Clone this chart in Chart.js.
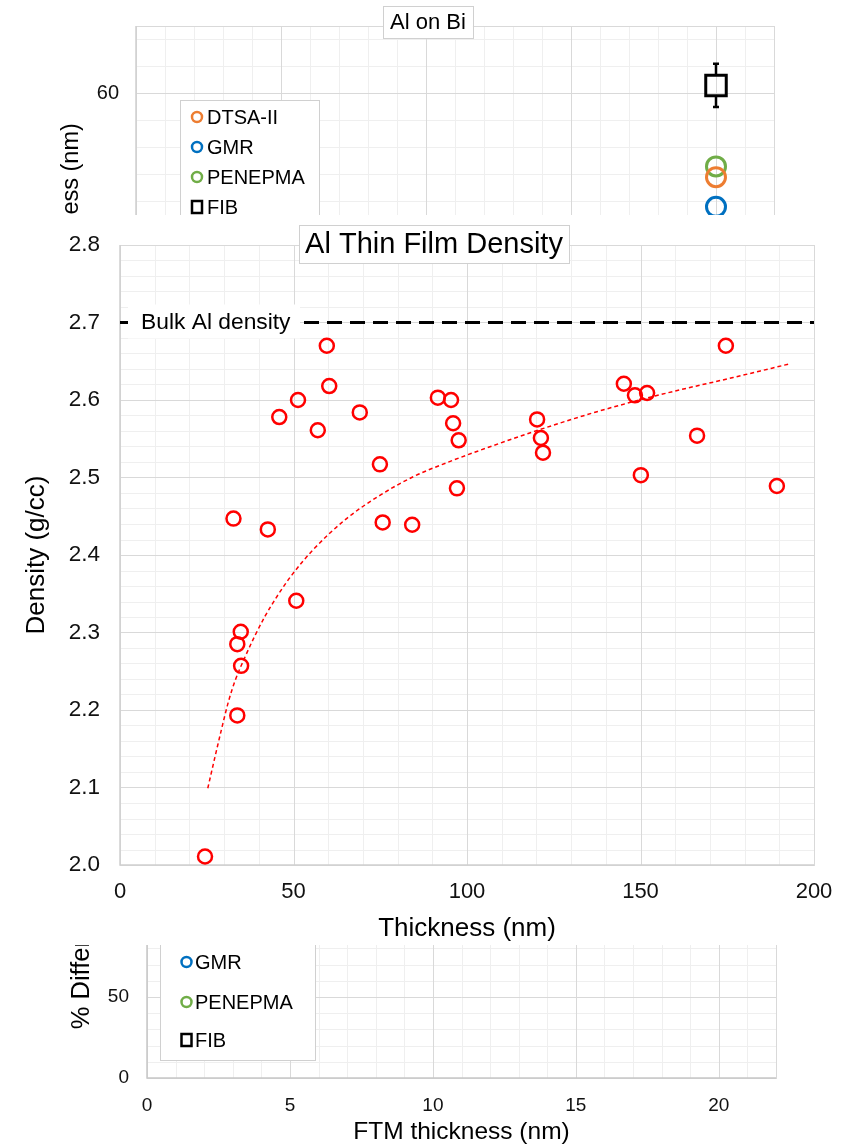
<!DOCTYPE html>
<html>
<head>
<meta charset="utf-8">
<script src="https://cdn.jsdelivr.net/npm/chart.js@4.4.1/dist/chart.umd.min.js"></script>
<style>
html,body{margin:0;padding:0;background:#fff;width:841px;height:1144px;overflow:hidden}
.clip{position:absolute;left:0;width:841px;overflow:hidden;background:#fff}
canvas{position:absolute;left:0;display:block}
</style>
</head>
<body>
<div class="clip" style="top:0;height:215px;z-index:1"><canvas id="topChart" width="841" height="437" style="top:0"></canvas></div>
<div class="clip" style="top:945px;height:199px;z-index:1"><canvas id="botChart" width="841" height="340" style="top:-130px"></canvas></div>
<div class="clip" style="top:215px;height:730px;z-index:2"><canvas id="mainChart" width="841" height="730" style="top:0"></canvas></div>
<script>
// ---------------- DATA ----------------
// Main chart: Al Thin Film Density
const thicknessNm = [24.5, 32.7, 33.8, 34.8, 34.9, 33.8, 42.6, 45.9, 50.8, 51.3, 57.0, 59.6, 60.3, 69.1, 74.9, 75.7, 84.2, 91.6, 95.4, 96.0, 97.6, 97.1, 120.2, 121.3, 121.9, 145.2, 148.4, 151.9, 150.1, 166.3, 174.6, 189.3];
const densityGcc  = [2.011, 2.447, 2.285, 2.301, 2.257, 2.193, 2.433, 2.578, 2.341, 2.600, 2.561, 2.670, 2.618, 2.584, 2.517, 2.442, 2.439, 2.603, 2.600, 2.570, 2.548, 2.486, 2.575, 2.551, 2.532, 2.621, 2.606, 2.609, 2.503, 2.554, 2.670, 2.489];
// trend line
const trendThickness = [25.3, 27.4, 29.3, 31.2, 33.1, 36.0, 38.9, 41.8, 45.6, 49.5, 55.7, 65.3, 74.9, 84.5, 94.1, 103.7, 119.1, 138.3, 157.6, 176.7, 193.3];
const trendDensity   = [2.099, 2.140, 2.176, 2.210, 2.237, 2.268, 2.296, 2.321, 2.349, 2.374, 2.407, 2.447, 2.477, 2.501, 2.519, 2.535, 2.559, 2.586, 2.609, 2.629, 2.647];
const bulkDensity = 2.7;
const bulkRange = [0, 200];
const mainXTicks = [0, 200, 50];      // min, max, step
const mainYTicks = [2.0, 2.8, 0.1];

// Top chart: Al on Bi (thickness, nm)
const seriesNames = ['DTSA-II', 'GMR', 'PENEPMA', 'FIB'];
const seriesColors = ['#ED7D31', '#0070C0', '#70AD47', '#000000'];
const topFtm = [20];
const topDtsa = [53.8];
const topGmr = [51.6];
const topPenepma = [54.6];
const topFib = [60.6];
const topFibErr = [1.6];

// Bottom chart: % Difference (no visible points)
const botFtm = [];
const botDtsa = [];
const botGmr = [];
const botPenepma = [];
const botFib = [];

// ---------------- HELPERS ----------------
const FONT = "'Liberation Sans', Arial, Helvetica, sans-serif";
Chart.defaults.font.family = FONT;
Chart.defaults.color = '#111';

const pts = (xs, ys) => xs.map((x, i) => ({x: x, y: ys[i]}));
function noPad(s) { s.paddingLeft = 0; s.paddingRight = 0; s.paddingTop = 0; s.paddingBottom = 0; }

const excelGrid = {
  id: 'excelGrid',
  beforeDatasetsDraw(chart, args, o) {
    const ctx = chart.ctx, a = chart.chartArea, sx = chart.scales.x, sy = chart.scales.y;
    ctx.save();
    const draw = (scale, minor, major, horiz, wantMajor) => {
      const s = Math.ceil(scale.min / minor - 1e-9), e = Math.floor(scale.max / minor + 1e-9);
      for (let i = s; i <= e; i++) {
        const v = i * minor;
        const isMajor = Math.abs(v / major - Math.round(v / major)) < 1e-6;
        if (isMajor !== wantMajor) continue;
        const p = Math.round(scale.getPixelForValue(v)) + 0.5;
        ctx.strokeStyle = isMajor ? o.majorColor : o.minorColor;
        ctx.lineWidth = 1;
        ctx.beginPath();
        if (horiz) { ctx.moveTo(a.left, p); ctx.lineTo(a.right, p); }
        else { ctx.moveTo(p, a.top); ctx.lineTo(p, a.bottom); }
        ctx.stroke();
      }
    };
    draw(sx, o.xMinor, o.xMajor, false, false);
    draw(sy, o.yMinor, o.yMajor, true, false);
    draw(sx, o.xMinor, o.xMajor, false, true);
    draw(sy, o.yMinor, o.yMajor, true, true);
    ctx.strokeStyle = o.majorColor; ctx.lineWidth = 1;
    ctx.strokeRect(Math.round(a.left) + 0.5, Math.round(a.top) + 0.5, Math.round(a.right - a.left), Math.round(a.bottom - a.top));
    ctx.strokeStyle = o.axisColor; ctx.lineWidth = 1.5;
    ctx.beginPath();
    ctx.moveTo(a.left, a.top); ctx.lineTo(a.left, a.bottom); ctx.lineTo(a.right, a.bottom);
    ctx.stroke();
    ctx.restore();
  }
};

function boxedTitle(ctx, t) {
  ctx.save();
  ctx.font = t.size + 'px ' + FONT;
  const w = ctx.measureText(t.text).width;
  const bx = t.cx - w / 2 - t.padX;
  ctx.fillStyle = '#fff';
  ctx.fillRect(bx, t.top, w + 2 * t.padX, t.h);
  ctx.strokeStyle = '#d0d0d0'; ctx.lineWidth = 1;
  ctx.strokeRect(Math.round(bx) + 0.5, Math.round(t.top) + 0.5, Math.round(w + 2 * t.padX), Math.round(t.h));
  ctx.fillStyle = '#000';
  ctx.textAlign = 'center'; ctx.textBaseline = 'middle';
  ctx.fillText(t.text, t.cx, t.top + t.h / 2 + 1);
  ctx.restore();
}

function legendBox(chart, L) {
  const ctx = chart.ctx;
  ctx.save();
  ctx.fillStyle = '#fff';
  ctx.fillRect(L.x, L.y, L.w, L.h);
  ctx.strokeStyle = '#d0d0d0'; ctx.lineWidth = 1;
  ctx.strokeRect(L.x + 0.5, L.y + 0.5, L.w, L.h);
  ctx.font = L.size + 'px ' + FONT;
  ctx.textBaseline = 'middle'; ctx.textAlign = 'left';
  chart.data.datasets.forEach((ds, i) => {
    const cy = L.rows[i];
    ctx.strokeStyle = ds.borderColor; ctx.lineWidth = 2.5;
    ctx.beginPath();
    if (ds.pointStyle === 'rect') {
      ctx.rect(L.markerX - 5, cy - 6, 10, 12);
    } else {
      ctx.arc(L.markerX, cy, 5, 0, Math.PI * 2);
    }
    ctx.stroke();
    ctx.fillStyle = '#000';
    ctx.fillText(ds.label, L.textX, cy + 1);
  });
  ctx.restore();
}

const overlay = {
  id: 'overlay',
  afterDatasetsDraw(chart, args, o) {
    const ctx = chart.ctx;
    // error bars
    chart.data.datasets.forEach((ds, di) => {
      if (!ds.errorBars) return;
      ds.data.forEach((p, i) => {
        const e = ds.errorBars[i];
        const x = chart.scales.x.getPixelForValue(p.x);
        const yTop = chart.scales.y.getPixelForValue(p.y + e);
        const yBot = chart.scales.y.getPixelForValue(p.y - e);
        const yc = chart.scales.y.getPixelForValue(p.y);
        const half = ds.pointRadius * Math.SQRT1_2 + 1;
        ctx.save();
        ctx.strokeStyle = ds.borderColor; ctx.lineWidth = 2.5;
        ctx.beginPath();
        ctx.moveTo(x, yTop); ctx.lineTo(x, yc - half);
        ctx.moveTo(x, yc + half); ctx.lineTo(x, yBot);
        ctx.moveTo(x - 3, yTop); ctx.lineTo(x + 3, yTop);
        ctx.moveTo(x - 3, yBot); ctx.lineTo(x + 3, yBot);
        ctx.stroke();
        ctx.restore();
      });
    });
    // data label for the bulk line
    if (o.bulkLabel) {
      const b = o.bulkLabel;
      const ds = chart.data.datasets[b.dataset];
      const yc = chart.scales.y.getPixelForValue(ds.data[0].y);
      ctx.save();
      ctx.fillStyle = '#fff';
      ctx.fillRect(b.x, yc - b.h / 2 - 1, b.w, b.h);
      ctx.font = b.size + 'px ' + FONT;
      ctx.fillStyle = '#000'; ctx.textBaseline = 'middle'; ctx.textAlign = 'left';
      ctx.fillText(ds.label, b.textX, yc);
      ctx.restore();
    }
  },
  afterDraw(chart, args, o) {
    if (o.title) boxedTitle(chart.ctx, o.title);
    if (o.legend) legendBox(chart, o.legend);
  }
};

const baseOpts = {
  responsive: false, animation: false, events: [],
};

// ---------------- MAIN CHART ----------------
new Chart(document.getElementById('mainChart'), {
  type: 'scatter',
  data: {
    datasets: [
      { label: 'Density', data: pts(thicknessNm, densityGcc), pointStyle: 'circle', pointRadius: 7, pointHoverRadius: 7,
        borderColor: '#ff0000', backgroundColor: 'rgba(0,0,0,0)', pointBorderWidth: 2.5, borderWidth: 2.5, showLine: false },
      { label: 'Trend', data: pts(trendThickness, trendDensity), showLine: true, pointRadius: 0, borderColor: '#ff0000',
        borderWidth: 1.5, borderDash: [4, 3], cubicInterpolationMode: 'monotone', fill: false },
      { label: 'Bulk Al density', data: bulkRange.map(x => ({x: x, y: bulkDensity})), showLine: true, pointRadius: 0,
        borderColor: '#000', borderWidth: 3, borderDash: [15, 8], fill: false }
    ]
  },
  options: Object.assign({}, baseOpts, {
    layout: { padding: { top: 30, right: 27, left: 0, bottom: 0 } },
    plugins: {
      legend: { display: false }, tooltip: { enabled: false },
      excelGrid: { xMinor: 10, xMajor: 50, yMinor: 0.02, yMajor: 0.1, majorColor: '#d9d9d9', minorColor: '#efefef', axisColor: '#cfcfcf' },
      overlay: {
        title: { text: 'Al Thin Film Density', cx: 434, top: 10, h: 38, size: 29, padX: 6 },
        bulkLabel: { dataset: 2, x: 128, w: 172, h: 34, textX: 141, size: 22.8 }
      }
    },
    scales: {
      x: { type: 'linear', min: mainXTicks[0], max: mainXTicks[1],
        grid: { display: false, drawTicks: false }, border: { display: false },
        ticks: { stepSize: mainXTicks[2], includeBounds: false, padding: 14, font: { size: 22 }, color: '#111', maxRotation: 0, autoSkip: false },
        title: { display: true, text: 'Thickness (nm)', font: { size: 26 }, color: '#000', padding: { top: 0, bottom: 1 } },
        afterFit(s) { s.height = 80; noPad(s); } },
      y: { type: 'linear', min: mainYTicks[0], max: mainYTicks[1],
        grid: { display: false, drawTicks: false }, border: { display: false },
        ticks: { stepSize: mainYTicks[2], includeBounds: false, padding: 20, font: { size: 22.5 }, color: '#111', autoSkip: false,
          callback: v => Number(v).toFixed(1) },
        title: { display: true, text: 'Density (g/cc)', font: { size: 26 }, color: '#000', padding: { top: 21, bottom: 0 } },
        afterFit(s) { s.width = 120; noPad(s); } }
    }
  }),
  plugins: [excelGrid, overlay]
});

// ---------------- TOP / BOTTOM CHARTS ----------------
function seriesDatasets(xs, ysList, errs) {
  return seriesNames.map((name, i) => {
    const isFib = name === 'FIB';
    return {
      label: name,
      data: pts(xs, ysList[i]),
      pointStyle: isFib ? 'rect' : 'circle',
      pointRadius: isFib ? 14.5 : 9.5,
      pointHoverRadius: isFib ? 14.5 : 9.5,
      borderColor: seriesColors[i],
      backgroundColor: 'rgba(0,0,0,0)',
      borderWidth: 3, pointBorderWidth: 3,
      showLine: false,
      errorBars: isFib ? errs : undefined
    };
  });
}

new Chart(document.getElementById('topChart'), {
  type: 'scatter',
  data: { datasets: seriesDatasets(topFtm, [topDtsa, topGmr, topPenepma, topFib], topFibErr) },
  options: Object.assign({}, baseOpts, {
    layout: { padding: { top: 26, right: 67, left: 0, bottom: 0 } },
    plugins: {
      legend: { display: false }, tooltip: { enabled: false },
      excelGrid: { xMinor: 1, xMajor: 5, yMinor: 2, yMajor: 10, majorColor: '#d9d9d9', minorColor: '#efefef', axisColor: '#cfcfcf' },
      overlay: {
        title: { text: 'Al on Bi', cx: 428, top: 6, h: 32, size: 22, padX: 7 },
        legend: { x: 180, y: 100, w: 139, h: 200, rows: [117, 147, 177, 207], markerX: 197, textX: 207, size: 20 }
      }
    },
    scales: {
      x: { type: 'linear', min: 0, max: 22,
        grid: { display: false, drawTicks: false }, border: { display: false },
        ticks: { stepSize: 5, includeBounds: false, padding: 14, font: { size: 20 }, color: '#111', maxRotation: 0, autoSkip: false },
        title: { display: true, text: 'FTM thickness (nm)', font: { size: 22 }, color: '#000', padding: { top: 0, bottom: 2 } },
        afterFit(s) { s.height = 437 - 26 - 355; noPad(s); } },
      y: { type: 'linear', min: 38.7, max: 65,
        grid: { display: false, drawTicks: false }, border: { display: false },
        ticks: { stepSize: 10, includeBounds: false, padding: 17, font: { size: 20 }, color: '#111', autoSkip: false },
        title: { display: true, text: 'Thickness (nm)', font: { size: 23.5 }, color: '#000', padding: { top: 57.9, bottom: 0 } },
        afterFit(s) { s.width = 136; noPad(s); } }
    }
  }),
  plugins: [excelGrid, overlay]
});

new Chart(document.getElementById('botChart'), {
  type: 'scatter',
  data: { datasets: seriesDatasets(botFtm, [botDtsa, botGmr, botPenepma, botFib], []) },
  options: Object.assign({}, baseOpts, {
    layout: { padding: { top: 20, right: 65, left: 0, bottom: 0 } },
    plugins: {
      legend: { display: false }, tooltip: { enabled: false },
      excelGrid: { xMinor: 1, xMajor: 5, yMinor: 10, yMajor: 50, majorColor: '#d9d9d9', minorColor: '#efefef', axisColor: '#c8c8c8' },
      overlay: {
        legend: { x: 160, y: 60, w: 155, h: 185, rows: [108, 147, 187, 225], markerX: 186.5, textX: 195, size: 20 }
      }
    },
    scales: {
      x: { type: 'linear', min: 0, max: 22,
        grid: { display: false, drawTicks: false }, border: { display: false },
        ticks: { stepSize: 5, includeBounds: false, padding: 16, font: { size: 19 }, color: '#111', maxRotation: 0, autoSkip: false },
        title: { display: true, text: 'FTM thickness (nm)', font: { size: 24.5 }, color: '#000', padding: { top: 0, bottom: 8.3 } },
        afterFit(s) { s.height = 77; noPad(s); } },
      y: { type: 'linear', min: 0, max: 150,
        grid: { display: false, drawTicks: false }, border: { display: false },
        ticks: { stepSize: 50, includeBounds: false, padding: 18, font: { size: 19 }, color: '#111', autoSkip: false },
        title: { display: true, text: '% Difference', font: { size: 25.5 }, color: '#000', padding: { top: 66.7, bottom: 0 } },
        afterFit(s) { s.width = 147; noPad(s); } }
    }
  }),
  plugins: [excelGrid, overlay]
});
</script>
</body>
</html>
